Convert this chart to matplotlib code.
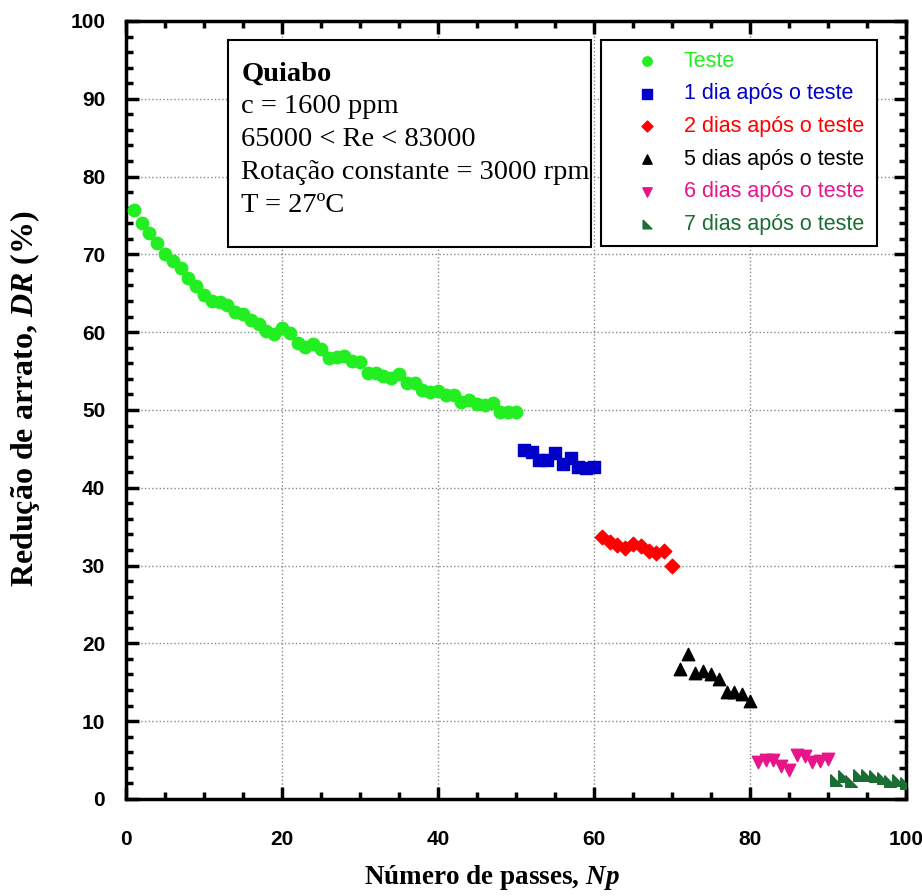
import numpy as np
import matplotlib.pyplot as plt
from matplotlib.patches import Rectangle
from matplotlib.ticker import MultipleLocator

# data
x_teste = list(range(1, 51))
y_teste = [75.7, 74.0, 72.8, 71.5, 70.1, 69.1, 68.2, 67.0, 65.9, 64.8,
           64.0, 63.9, 63.5, 62.6, 62.3, 61.6, 61.1, 60.1, 59.8, 60.5,
           59.9, 58.6, 58.1, 58.5, 57.8, 56.7, 56.8, 56.9, 56.3, 56.2,
           54.7, 54.7, 54.4, 54.1, 54.6, 53.5, 53.5, 52.6, 52.3, 52.5,
           51.9, 51.9, 51.0, 51.3, 50.8, 50.6, 50.9, 49.7, 49.7, 49.7]

x_d1 = list(range(51, 61))
y_d1 = [44.8, 44.6, 43.6, 43.6, 44.5, 43.1, 43.8, 42.7, 42.6, 42.7]

x_d2 = list(range(61, 71))
y_d2 = [33.7, 33.0, 32.6, 32.2, 32.8, 32.5, 31.9, 31.6, 31.9, 30.0]

x_d5 = list(range(71, 81))
y_d5 = [16.7, 18.6, 16.2, 16.5, 16.1, 15.4, 13.7, 13.7, 13.5, 12.6]

x_d6 = list(range(81, 91))
y_d6 = [4.7, 5.0, 5.0, 4.2, 3.7, 5.7, 5.5, 4.7, 4.9, 5.2]

x_d7 = list(range(91, 101))
y_d7 = [2.5, 2.9, 2.3, 3.1, 3.1, 3.0, 2.7, 2.3, 2.5, 2.0]

labels = ["Teste", "1 dia após o teste", "2 dias após o teste",
          "5 dias após o teste", "6 dias após o teste", "7 dias após o teste"]

plt.rcParams['mathtext.fontset'] = 'custom'
plt.rcParams['mathtext.rm'] = 'Liberation Serif:bold'
plt.rcParams['mathtext.it'] = 'Liberation Serif:bold:italic'

fig = plt.figure(figsize=(9.22, 8.96), dpi=100)
ax = fig.add_axes([0.1367, 0.1083, 0.846, 0.8683])

corner_tri = [(-1, 1), (-1, -1), (1, -1), (-1, 1)]

ax.scatter(x_teste, y_teste, s=80, marker='o', color='#22ee22', label=labels[0], zorder=3)
ax.scatter(x_d1, y_d1, s=85, marker='s', color='#0000c8', label=labels[1], zorder=3)
ax.scatter(x_d2, y_d2, s=55, marker='D', color='#ff0000', label=labels[2], zorder=3)
ax.scatter(x_d5, y_d5, s=80, marker='^', color='black', label=labels[3], zorder=3)
ax.scatter(x_d6, y_d6, s=80, marker='v', color='#e8158a', label=labels[4], zorder=3)
ax.scatter(x_d7, y_d7, s=70, marker=corner_tri, color='#1a6e33', label=labels[5], zorder=3)

ax.set_xlim(0, 100)
ax.set_ylim(0, 100)
ax.xaxis.set_major_locator(MultipleLocator(20))
ax.xaxis.set_minor_locator(MultipleLocator(5))
ax.yaxis.set_major_locator(MultipleLocator(10))
ax.yaxis.set_minor_locator(MultipleLocator(2))
ax.tick_params(which='both', direction='in', top=True, right=True, width=2.5)
ax.tick_params(which='major', length=9, labelsize=15)
ax.tick_params(axis='y', which='major', pad=15)
ax.tick_params(axis='x', which='major', pad=22)
ax.tick_params(which='minor', length=5)
for lab in ax.get_xticklabels() + ax.get_yticklabels():
    lab.set_fontweight('bold')
    lab.set_family('Liberation Sans')
for sp in ax.spines.values():
    sp.set_linewidth(2.5)
ax.grid(True, which='major', color='#888888', linestyle=':', linewidth=1)

ax.set_xlabel(r"Número de passes, $Np$", fontsize=19.5, fontweight='bold',
              family='Liberation Serif', va='center')
ax.set_ylabel(r"Redução de arrato, $DR\ (\%)$", fontsize=23, fontweight='bold',
              family='Liberation Serif', va='center')
ax.xaxis.set_label_coords(0.469, -0.1015)
ax.yaxis.set_label_coords(-0.1295, 0.514)

# info box
ax.add_patch(Rectangle((0.131, 0.7095), 0.465, 0.266, transform=ax.transAxes,
                       facecolor='white', edgecolor='black', linewidth=1.5, zorder=4))
info = ["c = 1600 ppm", "65000 < Re < 83000", "Rotação constante = 3000 rpm", "T = 27ºC"]
ax.text(0.148, 0.932, "Quiabo", transform=ax.transAxes, fontsize=20.5, fontweight='bold',
        family='Liberation Serif', va='center', zorder=5)
for i, t in enumerate(info):
    ax.text(0.148, 0.932 - 0.0424 * (i + 1), t, transform=ax.transAxes, fontsize=20.5,
            family='Liberation Serif', va='center', zorder=5)

leg = ax.legend(loc='upper left', bbox_to_anchor=(0.609, 0.7095, 0.354, 0.266),
                mode='expand', fancybox=False, edgecolor='black', framealpha=1,
                prop={'family': 'Liberation Sans', 'size': 15.5}, labelspacing=0.54,
                borderpad=0.5, handlelength=3.25, handletextpad=0.1, borderaxespad=0,
                scatterpoints=1, markerscale=0.75, labelcolor='markerfacecolor')
leg.get_frame().set_linewidth(1.5)
leg.set_zorder(5)

plt.savefig("out.png", dpi=100)
